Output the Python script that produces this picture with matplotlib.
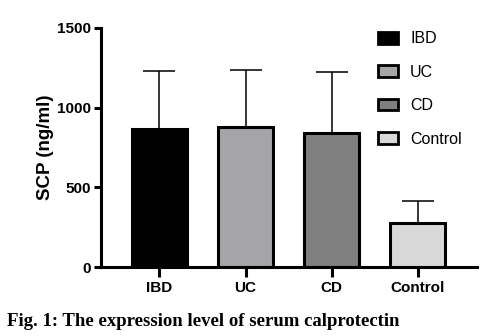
import numpy as np
import matplotlib
matplotlib.use("Agg")
import matplotlib.pyplot as plt
from matplotlib.patches import Patch

# Serum calprotectin per group: mean and upper SD
groups = ["IBD", "UC", "CD", "Control"]
means = [866, 877, 841, 278]
sds = [366, 359, 385, 136]
colors = ["#000000", "#a5a5a7", "#808080", "#d8d8d8"]

plt.rcParams['font.family'] = ['Liberation Sans', 'DejaVu Sans']

fig = plt.figure(figsize=(4.83, 3.36), dpi=100)
ax = fig.add_axes([0.209, 0.205, 0.779, 0.712])

x = np.arange(len(groups))
ax.bar(x, means, width=0.64, color=colors, edgecolor="black", linewidth=2.2,
       zorder=2)
ax.errorbar(x, means, yerr=[np.zeros(len(sds)), sds], fmt="none",
            ecolor="black", elinewidth=1.1, capsize=11.5, capthick=1.1, zorder=1)

ax.set_xlim(-0.68, 3.69)
ax.set_ylim(0, 1500)
ax.set_yticks([0, 500, 1000, 1500])
ax.set_xticks(x)
ax.set_xticklabels(groups)
for lab in ax.get_xticklabels() + ax.get_yticklabels():
    lab.set_fontweight("bold")
    lab.set_fontsize(11)
ax.tick_params(axis="x", direction="out", length=7, width=2.2, pad=3)
ax.tick_params(axis="y", direction="out", length=5, width=2.2, pad=2)
ax.set_ylabel("SCP (ng/ml)", fontweight="bold", fontsize=13.5, labelpad=2.5)

for side in ("top", "right"):
    ax.spines[side].set_visible(False)
for side in ("left", "bottom"):
    ax.spines[side].set_linewidth(2.2)

handles = [Patch(facecolor=c, edgecolor="black", linewidth=2.0) for c in colors]
ax.legend(handles, groups, loc="upper left", bbox_to_anchor=(0.737, 0.985),
          frameon=False, fontsize=11.5,
          handlelength=1.25, handleheight=0.75, handletextpad=0.75,
          labelspacing=1.15, borderaxespad=0, borderpad=0)

fig.text(0.014, 0.042, "Fig. 1: The expression level of serum calprotectin",
         family=["Liberation Serif", "DejaVu Serif"], fontweight="bold",
         fontsize=13.5, va="center", ha="left")

fig.savefig("out.png", dpi=100)
